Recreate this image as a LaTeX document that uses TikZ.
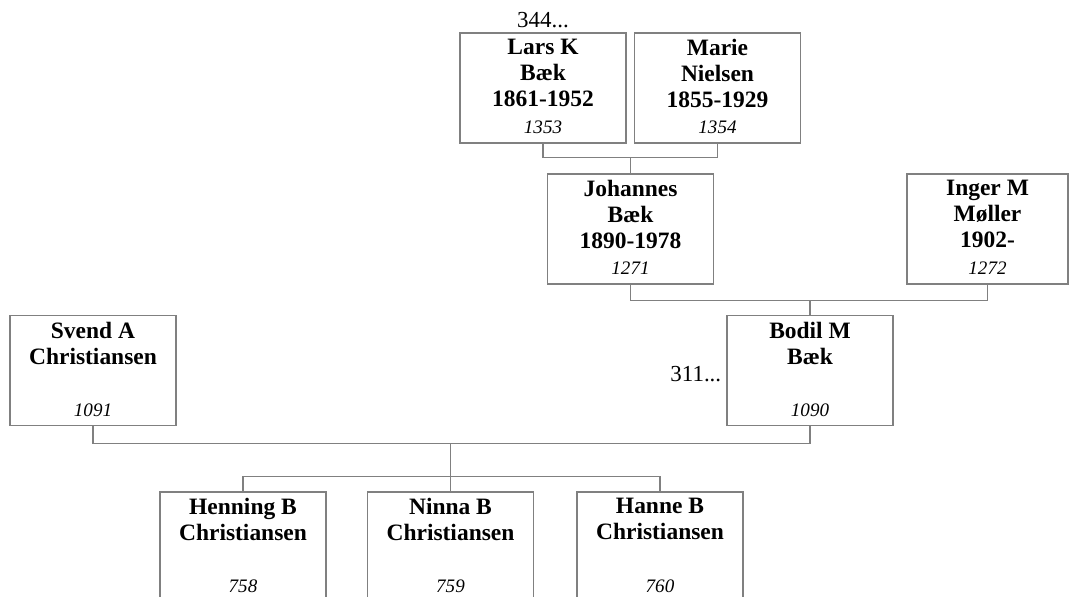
\documentclass[tikz,border=0pt]{standalone}
\usepackage{fontspec}
\setmainfont{Liberation Serif}
\usetikzlibrary{calc}
\definecolor{linegray}{RGB}{128,128,128}

\begin{document}
\begin{tikzpicture}[x=0.75pt,y=-0.75pt,
  person/.style={draw=linegray,line width=0.8pt,minimum width=124.5pt,
  minimum height=82.5pt,inner sep=0pt},
  pname/.style={anchor=north,align=center,inner sep=0pt,
  font=\fontsize{17.6}{19.5}\selectfont\bfseries},
  pnum/.style={anchor=base,inner sep=0pt,font=\fontsize{14.3}{17}\selectfont\itshape},
  more/.style={inner sep=0pt,font=\fontsize{17.2}{20}\selectfont},
  link/.style={draw=linegray,line width=0.8pt}]
  \useasboundingbox (0,0) rectangle (1069,596);
  \clip (0,0) rectangle (1069,596);
  \node[person] (lars) at (543,88) {};
  \node[person] (marie) at (717.5,88) {};
  \node[person] (johannes) at (630.5,229) {};
  \node[person,minimum width=120.75pt] (inger) at (987.5,229) {};
  \node[person] (svend) at (93,370.5) {};
  \node[person] (bodil) at (810,370.5) {};
  \node[person] (henning) at (243,547) {};
  \node[person] (ninna) at (450.5,547) {};
  \node[person] (hanne) at (660,547) {};
  \node[pname] (lars-name) at ($(lars.north)+(0,6.5)$) {Lars K\\Bæk\\1861-1952};
  \node[pname] (marie-name) at ($(marie.north)+(0,6.5)$) {Marie\\Nielsen\\1855-1929};
  \node[pname] (johannes-name) at ($(johannes.north)+(0,6.5)$) {Johannes\\Bæk\\1890-1978};
  \node[pname] (inger-name) at ($(inger.north)+(0,6.5)$) {Inger M\\Møller\\1902-};
  \node[pname] (svend-name) at ($(svend.north)+(0,6.5)$) {Svend A\\Christiansen};
  \node[pname] (bodil-name) at ($(bodil.north)+(0,6.5)$) {Bodil M\\Bæk};
  \node[pname] (henning-name) at ($(henning.north)+(0,6.5)$) {Henning B\\Christiansen};
  \node[pname] (ninna-name) at ($(ninna.north)+(0,6.5)$) {Ninna B\\Christiansen};
  \node[pname] (hanne-name) at ($(hanne.north)+(0,6.5)$) {Hanne B\\Christiansen};
  \node[pnum] (lars-no) at ($(lars.south)+(0,-10)$) {1353};
  \node[pnum] (marie-no) at ($(marie.south)+(0,-10)$) {1354};
  \node[pnum] (johannes-no) at ($(johannes.south)+(0,-10)$) {1271};
  \node[pnum] (inger-no) at ($(inger.south)+(0,-10)$) {1272};
  \node[pnum] (svend-no) at ($(svend.south)+(0,-10)$) {1091};
  \node[pnum] (bodil-no) at ($(bodil.south)+(0,-10)$) {1090};
  \node[pnum] (henning-no) at ($(henning.south)+(0,-10)$) {758};
  \node[pnum] (ninna-no) at ($(ninna.south)+(0,-10)$) {759};
  \node[pnum] (hanne-no) at ($(hanne.south)+(0,-10)$) {760};
  \node[more,anchor=base] (lars-more) at ($(lars.north)+(0,-5)$) {344...};
  \node[more,anchor=base east] (bodil-more) at ($(bodil.west)+(-5,10.5)$) {311...};
  \coordinate (bar1) at ($(lars.south)+(0,14)$);
  \draw[link] (lars.south) -- (bar1) -| (marie.south);
  \draw[link] (johannes.north) -- (johannes.north |- bar1);
  \coordinate (bar2) at ($(johannes.south)+(0,16)$);
  \draw[link] (johannes.south) -- (bar2) -| (inger.south);
  \draw[link] (bodil.north) -- (bodil.north |- bar2);
  \coordinate (bar3) at ($(svend.south)+(0,17)$);
  \draw[link] (svend.south) -- (bar3) -| (bodil.south);
  \coordinate (kids) at ($(henning.north)+(0,-15)$);
  \draw[link] (henning.north) -- (kids) -| (hanne.north);
  \draw[link] (ninna.north) -- (ninna.north |- bar3);
\end{tikzpicture}
\end{document}
